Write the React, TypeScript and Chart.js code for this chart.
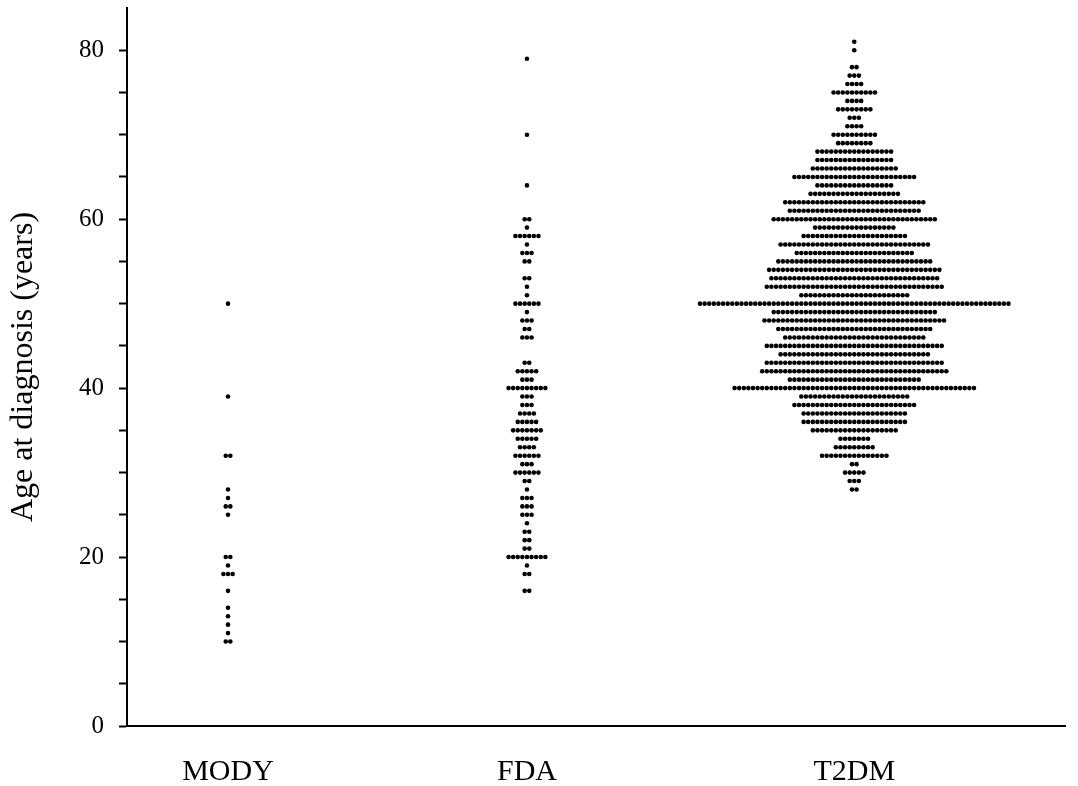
import React, { useEffect, useRef } from 'react';
import { Chart, registerables } from 'chart.js';

Chart.register(...registerables);

// ---- data ----
const categories = ['MODY', 'FDA', 'T2DM'];
const categoryPositions = [1, 2, 3.095];

const modyAges = [50, 39, 32, 28, 27, 26, 25, 20, 19, 18, 16, 14, 13, 12, 11, 10];
const modyCounts = [1, 1, 2, 1, 1, 2, 1, 2, 1, 3, 1, 1, 1, 1, 1, 2];

const fdaAges = [79, 70, 64, 60, 59, 58, 57, 56, 55, 53, 52, 51, 50, 49, 48, 47, 46, 43, 42, 41, 40, 39, 38, 37, 36, 35, 34, 33, 32, 31, 30, 29, 28, 27, 26, 25, 24, 23, 22, 21, 20, 19, 18, 16];
const fdaCounts = [1, 1, 1, 2, 1, 6, 1, 3, 2, 2, 1, 1, 6, 1, 3, 2, 3, 2, 5, 3, 9, 3, 3, 4, 5, 7, 5, 4, 6, 3, 6, 2, 1, 3, 3, 3, 1, 2, 2, 2, 9, 1, 2, 2];

const t2dmAges = [81, 80, 78, 77, 76, 75, 74, 73, 72, 71, 70, 69, 68, 67, 66, 65, 64, 63, 62, 61, 60, 59, 58, 57, 56, 55, 54, 53, 52, 51, 50, 49, 48, 47, 46, 45, 44, 43, 42, 41, 40, 39, 38, 37, 36, 35, 34, 33, 32, 31, 30, 29, 28];
const t2dmCounts = [1, 1, 2, 3, 4, 10, 4, 8, 3, 4, 10, 8, 17, 17, 19, 27, 17, 20, 31, 29, 36, 18, 23, 33, 26, 34, 38, 37, 39, 24, 68, 36, 40, 34, 31, 39, 33, 39, 41, 29, 53, 24, 27, 23, 23, 19, 7, 9, 15, 2, 5, 3, 2];

const yTickValues = [0, 20, 40, 60, 80];

const groups = [
  { ages: modyAges, counts: modyCounts },
  { ages: fdaAges, counts: fdaCounts },
  { ages: t2dmAges, counts: t2dmCounts },
];

const X_MIN = 0.662;
const X_MAX = 3.8;
const Y_MIN = 0;
const Y_MAX = 85;
const DOT_STEP = 0.0154; // horizontal spacing between stacked dots (x units)

function swarm(center: number, ages: number[], counts: number[]) {
  const pts: { x: number; y: number }[] = [];
  ages.forEach((age, k) => {
    const n = counts[k];
    for (let i = 0; i < n; i++) {
      pts.push({ x: center + (i - (n - 1) / 2) * DOT_STEP, y: age });
    }
  });
  return pts;
}

const FONT = "'Liberation Serif', 'Times New Roman', serif";

export default function App() {
  const ref = useRef<HTMLCanvasElement | null>(null);

  useEffect(() => {
    if (!ref.current) return;
    const datasets = groups.map((g, gi) => ({
      label: categories[gi],
      data: swarm(categoryPositions[gi], g.ages, g.counts),
      backgroundColor: '#000',
      borderColor: '#000',
      borderWidth: 0,
      pointRadius: 2.3,
      pointHoverRadius: 2.3,
      pointStyle: 'circle',
    }));

    const chart = new Chart(ref.current, {
      type: 'scatter',
      data: { datasets },
      options: {
        responsive: false,
        animation: false,
        events: [],
        layout: { padding: { left: 0, right: 13, top: 8, bottom: 0 } },
        plugins: { legend: { display: false }, tooltip: { enabled: false } },
        scales: {
          x: {
            type: 'linear',
            min: X_MIN,
            max: X_MAX,
            afterBuildTicks: (s: any) => {
              s.ticks = categoryPositions.map((v) => ({ value: v }));
            },
            afterFit: (s: any) => {
              s.height = 60;
              s.paddingLeft = 0;
              s.paddingRight = 0;
            },
            ticks: {
              autoSkip: false,
              maxRotation: 0,
              padding: 28,
              color: '#000',
              font: { family: FONT, size: 30 },
              callback: (_v: any, i: number) => categories[i],
            },
            grid: { display: false, drawTicks: false },
            border: { display: true, color: '#000', width: 2 },
          },
          y: {
            type: 'linear',
            min: Y_MIN,
            max: Y_MAX,
            afterBuildTicks: (s: any) => {
              const t: { value: number }[] = [];
              for (let v = 0; v <= 80; v += 5) t.push({ value: v });
              s.ticks = t;
            },
            afterFit: (s: any) => {
              s.width = 127;
              s.paddingTop = 0;
              s.paddingBottom = 0;
            },
            ticks: {
              autoSkip: false,
              padding: 15,
              color: '#000',
              font: { family: FONT, size: 25 },
              callback: (v: any) => (yTickValues.includes(Number(v)) ? String(v) : ''),
            },
            grid: {
              drawOnChartArea: false,
              drawTicks: true,
              tickLength: 8,
              tickWidth: 2,
              color: '#000',
            },
            border: { display: true, color: '#000', width: 2 },
            title: {
              display: true,
              text: 'Age at diagnosis (years)',
              color: '#000',
              font: { family: FONT, size: 32 },
              padding: { top: 4, bottom: 0 },
            },
          },
        },
      },
    } as any);
    return () => chart.destroy();
  }, []);

  return (
    <div style={{ position: 'fixed', left: 0, top: 0, width: 1078, height: 786, background: '#fff' }}>
      <canvas ref={ref} width={1078} height={786} style={{ display: 'block', width: 1078, height: 786 }} />
    </div>
  );
}
